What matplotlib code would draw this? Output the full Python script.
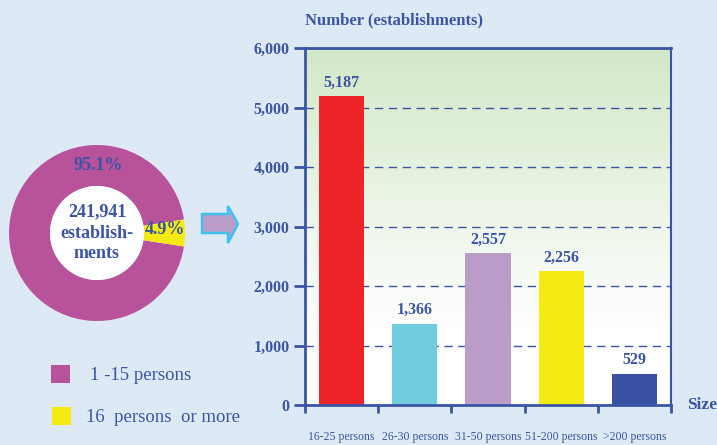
import matplotlib
matplotlib.use("Agg")
import matplotlib.pyplot as plt
import numpy as np
from matplotlib.patches import Wedge, Circle, Polygon, Rectangle

categories = ["16-25 persons", "26-30 persons", "31-50 persons", "51-200 persons", ">200 persons"]
values = [5187, 1366, 2557, 2256, 529]
bar_colors = ["#EE2428", "#6FCDDD", "#BB9CC8", "#F5EB14", "#3A52A3"]
yticks = [0, 1000, 2000, 3000, 4000, 5000, 6000]

donut_labels = ["1 -15 persons", "16  persons  or more"]
donut_shares = [95.1, 4.9]
donut_colors = ["#B8529B", "#F5EB14"]
total_text = "241,941\nestablish-\nments"

TXT = "#3A55A4"
BG = "#DDEAF6"
W, H = 717, 445
fig = plt.figure(figsize=(W / 100, H / 100), dpi=100, facecolor=BG)
plt.rcParams['font.family'] = ['Liberation Serif', 'DejaVu Serif']

def px(x0, y0, x1, y1):
    return [x0 / W, 1 - y1 / H, (x1 - x0) / W, (y1 - y0) / H]

# Bar chart
ax = fig.add_axes(px(305, 48, 671, 405))
ax.set_xlim(0, len(categories))
ax.set_ylim(0, 6000)
grad = np.linspace(0, 1, 256).reshape(-1, 1)
top = np.array([0.827, 0.910, 0.784])
white = np.array([1.0, 1.0, 1.0])
t = np.clip((grad - 0.21) / 0.79, 0, 1)
img = white * (1 - t) + top * t
ax.imshow(img.reshape(256, 1, 3), extent=[0, len(categories), 0, 6000],
          origin="lower", aspect="auto", zorder=0)
for y in yticks[1:-1]:
    ax.axhline(y, color=TXT, lw=1, ls=(0, (6, 4)), zorder=1)
x = np.arange(len(categories)) + 0.5
ax.bar(x, values, width=0.62, color=bar_colors, zorder=2)
for xi, v in zip(x, values):
    ax.text(xi, v + 90, f"{v:,}", ha="center", va="bottom", color=TXT,
            fontsize=11.5, fontweight="bold")
ax.set_yticks(yticks)
ax.set_yticklabels([f"{v:,}" for v in yticks], color=TXT, fontsize=11.5, fontweight="bold")
ax.set_xticks(np.arange(len(categories) + 1))
ax.set_xticklabels([])
ax.tick_params(axis="y", color=TXT, width=2, length=8, pad=3)
ax.tick_params(axis="x", color=TXT, width=2, length=6)
for s in ax.spines.values():
    s.set_color(TXT)
    s.set_linewidth(2)
ax.spines["right"].set_linewidth(1.5)
for xi, c in zip(x, categories):
    ax.text(xi, -0.09, c, transform=ax.get_xaxis_transform(), ha="center", va="center",
            color=TXT, fontsize=8.5)
fig.text(305 / W, 1 - 20 / H, "Number (establishments)", color=TXT, fontsize=12,
         fontweight="bold", ha="left", va="center")
fig.text(687 / W, 1 - 405 / H, "Size", color=TXT, fontsize=12.5,
         fontweight="bold", ha="left", va="center")

# Donut + legend + arrow in overlay axes (pixel coordinates)
ov = fig.add_axes([0, 0, 1, 1], facecolor="none")
ov.set_xlim(0, W)
ov.set_ylim(H, 0)
ov.set_axis_off()
cx, cy, R, r = 97, 233, 88, 47
yel_span = donut_shares[1] / 100 * 360
purple = Wedge((cx, cy), R, yel_span / 2, 360 - yel_span / 2, width=R - r,
               facecolor=donut_colors[0], edgecolor="none")
yellow = Wedge((cx, cy), R, -yel_span / 2, yel_span / 2, width=R - r,
               facecolor=donut_colors[1], edgecolor="none")
ov.add_patch(purple)
ov.add_patch(yellow)
ov.add_patch(Circle((cx, cy), r, facecolor="white", edgecolor="none"))
ov.text(cx, cy, total_text, ha="center", va="center", color=TXT, fontsize=13,
        fontweight="bold", linespacing=1.3)
ov.text(98, 166, f"{donut_shares[0]}%", ha="center", va="center", color=TXT,
        fontsize=13, fontweight="bold")
ov.text(165, 229, f"{donut_shares[1]}%", ha="center", va="center", color=TXT,
        fontsize=13, fontweight="bold")
# legend
ov.add_patch(Rectangle((51, 365), 19, 18, facecolor=donut_colors[0], edgecolor="none"))
ov.add_patch(Rectangle((52, 407), 19, 18, facecolor=donut_colors[1], edgecolor="none"))
ov.text(90, 376, donut_labels[0], ha="left", va="center", color=TXT, fontsize=13.5)
ov.text(86, 417, donut_labels[1], ha="left", va="center", color=TXT, fontsize=13.5)
# arrow
arrow_pts = [(202, 214), (228, 214), (228, 206), (238, 224), (228, 243),
             (228, 233), (202, 233)]
ov.add_patch(Polygon(arrow_pts, closed=True, facecolor="#BA9CC8",
                     edgecolor="#3FC1EE", linewidth=1.8, joinstyle="miter"))

fig.savefig("out.png", dpi=100, facecolor=BG)
